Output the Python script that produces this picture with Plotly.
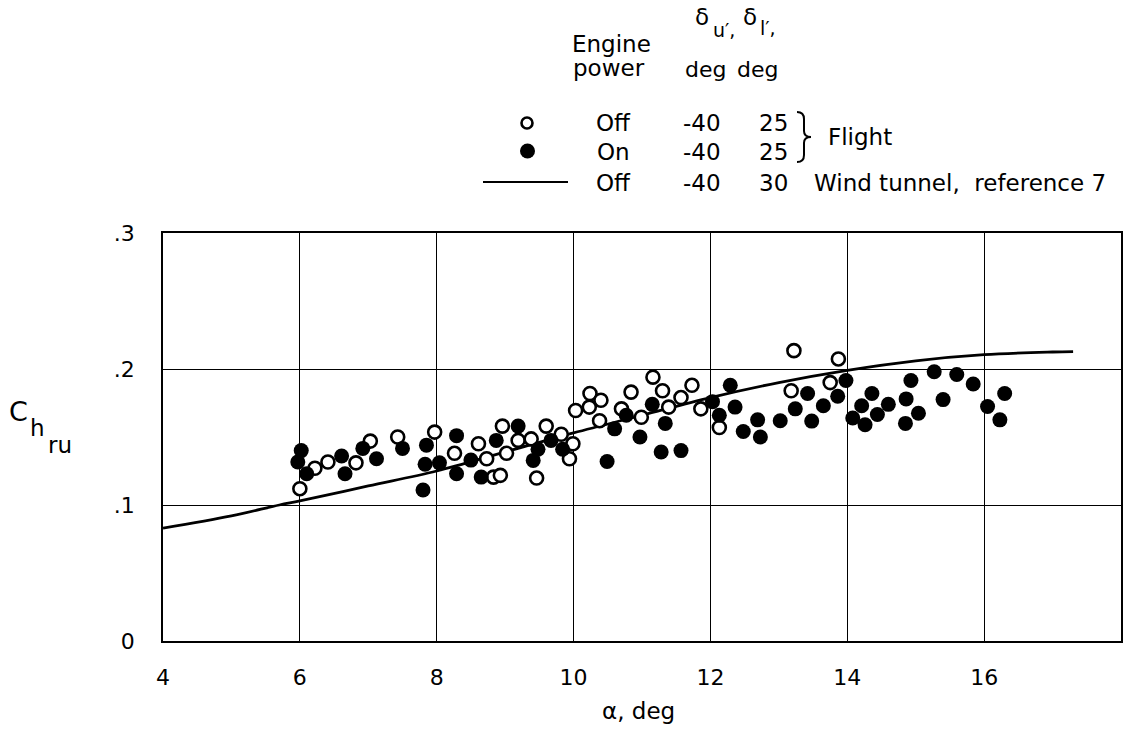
import plotly.graph_objects as go

# Engine power off (flight) - open circles
off_alpha = [6.0, 6.22, 6.41, 6.82, 7.03, 7.43, 7.97, 8.26, 8.61, 8.73, 8.83, 8.93, 8.96, 9.02,
             9.19, 9.38, 9.46, 9.6, 9.82, 9.94, 9.99, 10.03, 10.23, 10.24, 10.38, 10.4, 10.7,
             10.84, 10.99, 11.16, 11.3, 11.39, 11.57, 11.73, 11.86, 12.13, 13.18, 13.22, 13.75, 13.87]
off_c = [0.112, 0.127, 0.1316, 0.131, 0.147, 0.150, 0.1536, 0.138, 0.145, 0.134, 0.1205, 0.1218,
         0.158, 0.138, 0.1475, 0.1486, 0.1198, 0.158, 0.152, 0.134, 0.145, 0.1695, 0.172, 0.182,
         0.162, 0.177, 0.1707, 0.183, 0.1645, 0.194, 0.184, 0.172, 0.179, 0.188, 0.1707, 0.157,
         0.184, 0.2135, 0.190, 0.2074]

# Engine power on (flight) - filled circles
on_alpha = [6.02, 5.97, 6.1, 6.61, 6.66, 6.92, 7.12, 7.5, 7.8, 7.83, 7.85, 8.04, 8.29, 8.29, 8.5,
            8.65, 8.87, 9.19, 9.41, 9.48, 9.67, 9.84, 10.49, 10.6, 10.77, 10.97, 11.15, 11.28,
            11.34, 11.57, 12.03, 12.13, 12.29, 12.36, 12.48, 12.69, 12.73, 13.02, 13.24, 13.42,
            13.48, 13.65, 13.86, 13.98, 14.08, 14.21, 14.26, 14.36, 14.44, 14.6, 14.85, 14.86,
            14.93, 15.04, 15.27, 15.4, 15.6, 15.84, 16.05, 16.3, 16.23]
on_c = [0.140, 0.1316, 0.123, 0.136, 0.123, 0.1416, 0.134, 0.1416, 0.111, 0.130, 0.144, 0.131,
        0.151, 0.123, 0.133, 0.1205, 0.1475, 0.158, 0.1328, 0.141, 0.1475, 0.141, 0.132, 0.156,
        0.166, 0.150, 0.174, 0.139, 0.160, 0.140, 0.176, 0.166, 0.188, 0.172, 0.154, 0.1626,
        0.150, 0.162, 0.1707, 0.182, 0.1617, 0.173, 0.180, 0.1915, 0.164, 0.173, 0.159, 0.182,
        0.1665, 0.174, 0.160, 0.178, 0.1915, 0.1675, 0.198, 0.1775, 0.196, 0.189, 0.1724,
        0.182, 0.1626]

# Wind tunnel, reference 7
wt_alpha = [4, 5, 5.7, 6, 7, 8, 9, 10, 11, 12, 13, 14, 15, 16, 17, 17.3]
wt_c = [0.083, 0.092, 0.1, 0.103, 0.114, 0.125, 0.139, 0.153, 0.166, 0.179, 0.19, 0.199,
        0.206, 0.2105, 0.2125, 0.2128]

x_ticks = [4, 6, 8, 10, 12, 14, 16, 18]
y_ticks = [0, 0.1, 0.2, 0.3]
y_ticktext = ["0", ".1", ".2", ".3"]

FONT = "DejaVu Sans, sans-serif"
W, H = 1134, 730
L, R, T, B = 163, 1121, 233, 641


def px(x):
    return (x - L) / (R - L)


def py(y):
    return (B - y) / (B - T)


fig = go.Figure()
fig.add_trace(go.Scatter(x=wt_alpha, y=wt_c, mode="lines",
                         line=dict(color="black", width=2.8, shape="spline"),
                         showlegend=False))
fig.add_trace(go.Scatter(x=off_alpha, y=off_c, mode="markers",
                         marker=dict(symbol="circle", size=13, color="white",
                                     line=dict(color="black", width=2.6)),
                         showlegend=False))
fig.add_trace(go.Scatter(x=on_alpha, y=on_c, mode="markers",
                         marker=dict(symbol="circle", size=15, color="black",
                                     line=dict(color="black", width=0)),
                         showlegend=False))

fig.update_xaxes(range=[4, 18], tickvals=x_ticks, showgrid=True, gridcolor="black",
                 gridwidth=1.2, showline=True, linecolor="black", linewidth=1.6, mirror=True,
                 zeroline=False, ticks="", ticklabelstandoff=16,
                 tickfont=dict(size=22, color="black", family=FONT))
fig.update_yaxes(range=[0, 0.3], tickvals=y_ticks, ticktext=y_ticktext, showgrid=True,
                 gridcolor="black", gridwidth=1.2, showline=True, linecolor="black",
                 linewidth=1.6, mirror=True, zeroline=False, ticks="", ticklabelstandoff=22,
                 tickfont=dict(size=22, color="black", family=FONT))

anns = []


def text(x, y, s, size=23, xanchor="center"):
    anns.append(dict(x=px(x), y=py(y), xref="paper", yref="paper", text=s, showarrow=False,
                     xanchor=xanchor, yanchor="middle",
                     font=dict(size=size, color="black", family=FONT)))


# axis titles
text(638, 711, "α, deg", 23)
text(18, 411, "C", 27)
text(37, 428, "h", 23)
text(60, 445, "ru", 23)

# legend headers
text(611, 44, "Engine")
text(609, 68, "power")
text(702, 17, "δ", 23)
text(711, 30, "u′,", 19, "left")
text(705, 69, "deg", 22)
text(750, 17, "δ", 23)
text(758, 28, "l′,", 19, "left")
text(757, 69, "deg", 22)

rows = [(123, "Off", "-40", "25"), (152, "On", "-40", "25"), (183, "Off", "-40", "30")]
for yy, a, b, c in rows:
    text(613, yy, a)
    text(702, yy, b)
    text(773, yy, c)
text(826, 137, "Flight", 23, "left")
text(812, 183, "Wind tunnel,  reference 7", 23, "left")


def brace_path(xl, xm, xr, y0, ym, y1):
    def P(x, y):
        return f"{px(x):.5f},{py(y):.5f}"
    return (f"M {P(xl, y0)} Q {P(xm, y0)} {P(xm, y0 + 7)} L {P(xm, ym - 6)} "
            f"Q {P(xm, ym)} {P(xr, ym)} Q {P(xm, ym)} {P(xm, ym + 6)} "
            f"L {P(xm, y1 - 7)} Q {P(xm, y1)} {P(xl, y1)}")


shapes = [
    dict(type="circle", xref="paper", yref="paper", x0=px(521.5), x1=px(532.5), y0=py(117.5),
         y1=py(128.5), line=dict(color="black", width=2.6), fillcolor="white"),
    dict(type="circle", xref="paper", yref="paper", x0=px(520), x1=px(535), y0=py(143.5),
         y1=py(158.5), line=dict(color="black", width=0), fillcolor="black"),
    dict(type="line", xref="paper", yref="paper", x0=px(483), x1=px(568), y0=py(182),
         y1=py(182), line=dict(color="black", width=2.2)),
    dict(type="path", xref="paper", yref="paper",
         path=brace_path(797, 804, 811, 112, 137, 162),
         line=dict(color="black", width=2)),
]

fig.update_layout(width=W, height=H, margin=dict(l=L, r=W - R, t=T, b=H - B),
                  plot_bgcolor="white", paper_bgcolor="white", annotations=anns,
                  shapes=shapes, font=dict(family=FONT, color="black"))

fig.write_html("out.html")
